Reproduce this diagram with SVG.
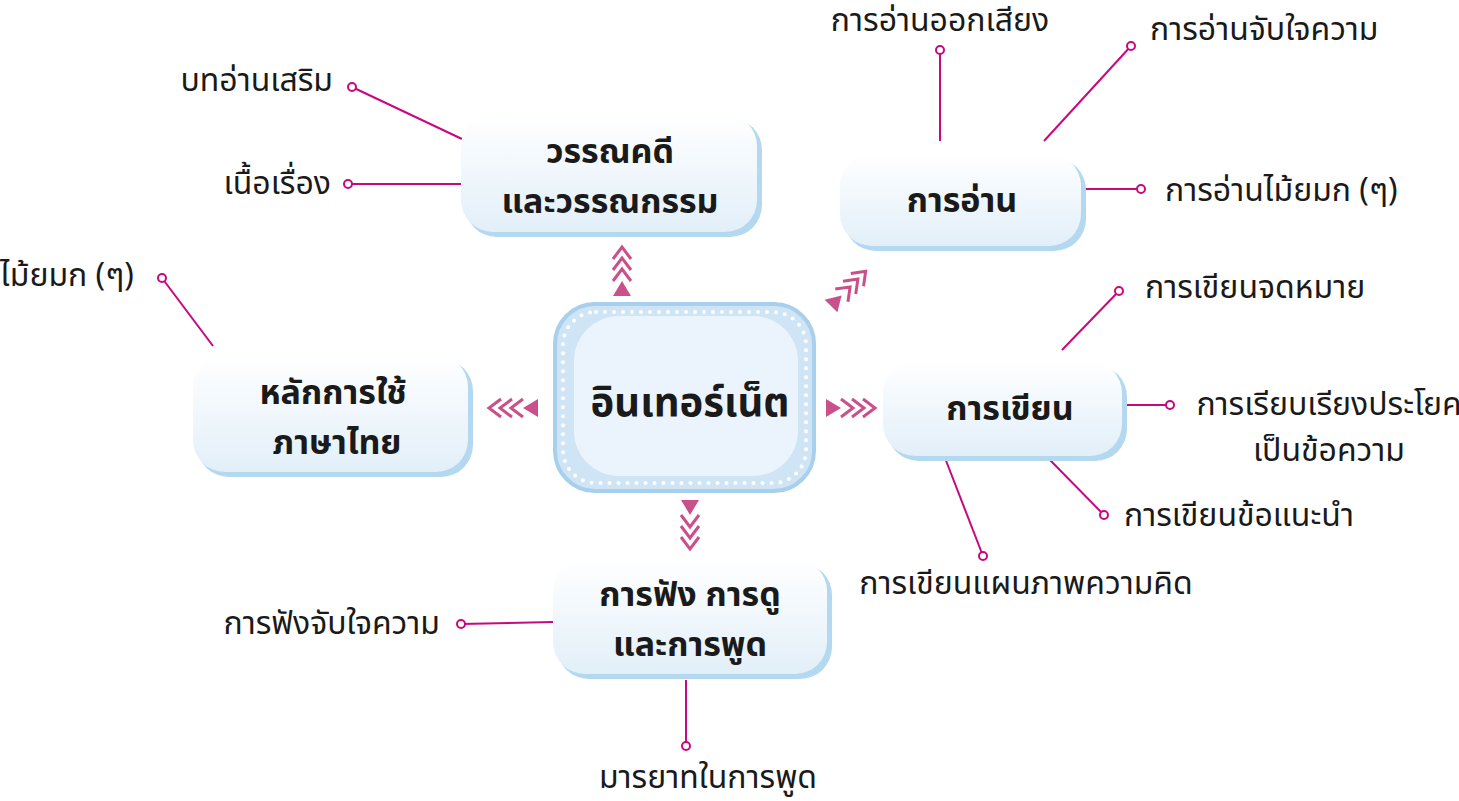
<svg xmlns="http://www.w3.org/2000/svg" width="1459" height="801" viewBox="0 0 1459 801">
<defs>
<linearGradient id="boxg" x1="0" y1="0" x2="0" y2="1">
<stop offset="0" stop-color="#ffffff"/>
<stop offset="1" stop-color="#e2eff9"/>
</linearGradient>
<g id="chev" fill="none" stroke="#c9508a" stroke-width="3" stroke-linejoin="miter">
<polygon points="-9,0 9,0 0,-15" fill="#c9508a" stroke="none"/>
<polyline points="-9,-15 0,-27 9,-15"/>
<polyline points="-9,-26 0,-38 9,-26"/>
<polyline points="-9,-37 0,-49 9,-37"/>
</g>
</defs>
<style>
.sh{fill:#b5d8f1}
.bx{fill:url(#boxg)}
.nt{font-family:"Noto Sans Thai","Noto Sans","DejaVu Sans",sans-serif;font-weight:bold;font-size:34px;fill:#1a1a1a;text-anchor:middle}
.lt{font-family:"Noto Sans Thai","Noto Sans","DejaVu Sans",sans-serif;font-size:32px;fill:#1a1a1a}
.ln{stroke:#c8087e;stroke-width:2;fill:none}
.dot{stroke:#c8087e;stroke-width:2;fill:#ffffff}
</style>
<rect width="1459" height="801" fill="#ffffff"/>

<g id="connectors">
<line class="ln" x1="352" y1="87" x2="462" y2="139"/>
<line class="ln" x1="348" y1="184" x2="462" y2="184"/>
<line class="ln" x1="162" y1="278" x2="213" y2="346"/>
<line class="ln" x1="940" y1="50" x2="940" y2="141"/>
<line class="ln" x1="1131" y1="46" x2="1044" y2="141"/>
<line class="ln" x1="1082" y1="189" x2="1141" y2="189"/>
<line class="ln" x1="1119" y1="291" x2="1062" y2="350"/>
<line class="ln" x1="1124" y1="405" x2="1170" y2="405"/>
<line class="ln" x1="1050" y1="460" x2="1104" y2="515"/>
<line class="ln" x1="945" y1="458" x2="983" y2="556"/>
<line class="ln" x1="461" y1="624" x2="553" y2="622"/>
<line class="ln" x1="686" y1="680" x2="686" y2="746"/>
<circle class="dot" cx="352" cy="87" r="4"/>
<circle class="dot" cx="348" cy="184" r="4"/>
<circle class="dot" cx="162" cy="278" r="4"/>
<circle class="dot" cx="940" cy="50" r="4"/>
<circle class="dot" cx="1131" cy="46" r="4"/>
<circle class="dot" cx="1141" cy="189" r="4"/>
<circle class="dot" cx="1119" cy="291" r="4"/>
<circle class="dot" cx="1170" cy="405" r="4"/>
<circle class="dot" cx="1104" cy="515" r="4"/>
<circle class="dot" cx="983" cy="556" r="4"/>
<circle class="dot" cx="461" cy="624" r="4"/>
<circle class="dot" cx="686" cy="746" r="4"/>
<use href="#chev" transform="translate(622,296)"/>
<use href="#chev" transform="translate(690,500) rotate(180)"/>
<use href="#chev" transform="translate(538,408) rotate(-90)"/>
<use href="#chev" transform="translate(826,408) rotate(90)"/>
<use href="#chev" transform="translate(831,306) rotate(45)"/>
</g>

<g id="center">
<rect x="555" y="304" width="259" height="187" rx="40" fill="#cfe5f5" stroke="#a8d0ec" stroke-width="4"/>
<rect x="574" y="316" width="224" height="160" rx="45" fill="#ebf4fc"/>
<rect x="563" y="312" width="243" height="171" rx="33" fill="none" stroke="#ffffff" stroke-width="4" stroke-linecap="round" stroke-dasharray="0 9"/>
<text class="nt" x="690" y="416" style="font-size:40px">อินเทอร์เน็ต</text>
</g>

<g id="n-literature">
<rect class="sh" x="465" y="118" width="297" height="119" rx="32"/>
<rect class="bx" x="461" y="114" width="296" height="118" rx="32"/>
<text class="nt" x="610" y="163">วรรณคดี</text>
<text class="nt" x="610" y="213">และวรรณกรรม</text>
</g>
<g id="l-lit1"><text class="lt" x="333" y="91" text-anchor="end">บทอ่านเสริม</text></g>
<g id="l-lit2"><text class="lt" x="331" y="194" text-anchor="end">เนื้อเรื่อง</text></g>

<g id="n-reading">
<rect class="sh" x="844" y="158" width="242" height="93" rx="32"/>
<rect class="bx" x="840" y="154" width="241" height="92" rx="32"/>
<text class="nt" x="962" y="212">การอ่าน</text>
</g>
<g id="l-read1"><text class="lt" x="940" y="31" text-anchor="middle">การอ่านออกเสียง</text></g>
<g id="l-read2"><text class="lt" x="1150" y="40">การอ่านจับใจความ</text></g>
<g id="l-read3"><text class="lt" x="1165" y="201">การอ่านไม้ยมก (ๆ)</text></g>

<g id="n-grammar">
<rect class="sh" x="197" y="359" width="276" height="118" rx="32"/>
<rect class="bx" x="193" y="355" width="275" height="117" rx="32"/>
<text class="nt" x="333" y="404">หลักการใช้</text>
<text class="nt" x="337" y="454">ภาษาไทย</text>
</g>
<g id="l-gram1"><text class="lt" x="0" y="286">ไม้ยมก (ๆ)</text></g>

<g id="n-writing">
<rect class="sh" x="887" y="365" width="240" height="96" rx="32"/>
<rect class="bx" x="883" y="361" width="239" height="95" rx="32"/>
<text class="nt" x="1010" y="420">การเขียน</text>
</g>
<g id="l-write1"><text class="lt" x="1145" y="298">การเขียนจดหมาย</text></g>
<g id="l-write2"><text class="lt" x="1329" y="415" text-anchor="middle">การเรียบเรียงประโยค</text><text class="lt" x="1329" y="461" text-anchor="middle">เป็นข้อความ</text></g>
<g id="l-write3"><text class="lt" x="1124" y="526">การเขียนข้อแนะนำ</text></g>
<g id="l-write4"><text class="lt" x="1026" y="594" text-anchor="middle">การเขียนแผนภาพความคิด</text></g>

<g id="n-listening">
<rect class="sh" x="557" y="563" width="275" height="116" rx="32"/>
<rect class="bx" x="553" y="559" width="274" height="115" rx="32"/>
<text class="nt" x="690" y="606">การฟัง การดู</text>
<text class="nt" x="690" y="656">และการพูด</text>
</g>
<g id="l-listen1"><text class="lt" x="440" y="634" text-anchor="end">การฟังจับใจความ</text></g>
<g id="l-listen2"><text class="lt" x="708" y="788" text-anchor="middle">มารยาทในการพูด</text></g>
</svg>
